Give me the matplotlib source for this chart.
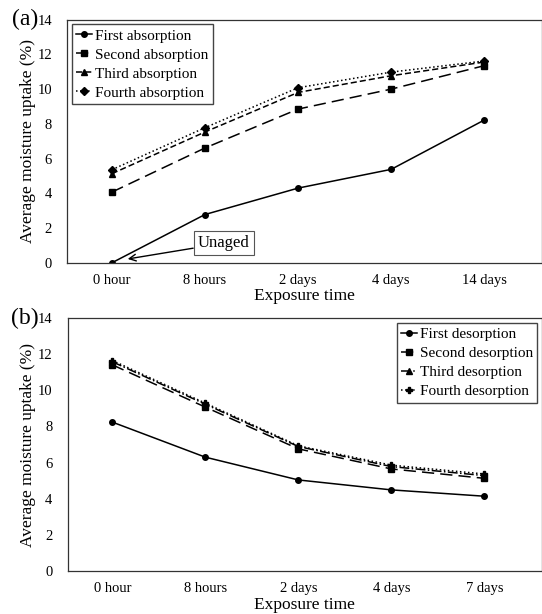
import matplotlib.pyplot as plt

plt.rcParams['font.family'] = ['Liberation Serif', 'DejaVu Serif']

labels_a = ['0 hour', '8 hours', '2 days', '4 days', '14 days']
first_abs = [0.0, 2.78, 4.30, 5.38, 8.22]
second_abs = [4.07, 6.61, 8.85, 10.0, 11.35]
third_abs = [5.13, 7.53, 9.81, 10.77, 11.56]
fourth_abs = [5.36, 7.78, 10.08, 10.98, 11.62]

labels_b = ['0 hour', '8 hours', '2 days', '4 days', '7 days']
first_des = [8.24, 6.30, 5.04, 4.49, 4.14]
second_des = [11.41, 9.07, 6.76, 5.65, 5.13]
third_des = [11.58, 9.23, 6.89, 5.78, 5.28]
fourth_des = [11.65, 9.29, 6.93, 5.86, 5.37]

fig = plt.figure(figsize=(5.42, 6.14), dpi=100)
ax1 = fig.add_axes([0.124, 0.572, 0.876, 0.396])
ax2 = fig.add_axes([0.125, 0.070, 0.875, 0.412])

styles = [
    dict(ls='-', marker='o', ms=4),
    dict(ls=(0, (8, 4)), marker='s', ms=4.5),
    dict(ls=(0, (4, 2)), marker='^', ms=5),
    dict(ls=':', marker='D', ms=4),
]
styles_b = [
    dict(ls='-', marker='o', ms=4),
    dict(ls=(0, (8, 4)), marker='s', ms=4.5),
    dict(ls='-.', marker='^', ms=5),
    dict(ls=':', marker='P', ms=4),
]


def setup(ax, labels, tag):
    x = range(len(labels))
    ax.set_xticks(list(x))
    ax.set_xticklabels(labels)
    ax.set_xlim(-0.48, 4.62)
    ax.set_ylim(0, 14)
    ax.set_yticks(range(0, 15, 2))
    ax.tick_params(length=0, labelsize=10.5, pad=8)
    ax.tick_params(axis='y', pad=11)
    for s in ax.spines.values():
        s.set_color('#333333')
        s.set_linewidth(0.9)
    ax.set_xlabel('Exposure time', fontsize=12.5, labelpad=1)
    ax.set_ylabel('Average moisture uptake (%)', fontsize=12.5, labelpad=1)
    ax.text(-0.061, 1.0, tag, transform=ax.transAxes, fontsize=17, ha='right', va='center')


def add_legend(ax, loc):
    ax.legend(loc=loc, fontsize=11, frameon=True, fancybox=False, edgecolor='#444444',
              handlelength=1.05, handletextpad=0.15, labelspacing=0.35, borderpad=0.3,
              borderaxespad=0.3, framealpha=1)


x = list(range(5))
names_a = ['First absorption', 'Second absorption', 'Third absorption', 'Fourth absorption']
for ys, st, nm in zip([first_abs, second_abs, third_abs, fourth_abs], styles, names_a):
    ax1.plot(x, ys, color='black', lw=1.1, label=nm, **st)
setup(ax1, labels_a, '(a)')
add_legend(ax1, 'upper left')
ax1.annotate('Unaged', xy=(0.17, 0.22), xytext=(1.2, 1.13), fontsize=12, ha='center', va='center',
             bbox=dict(boxstyle='square,pad=0.25', fc='white', ec='#555555', lw=0.8),
             arrowprops=dict(arrowstyle='->', color='black', lw=1.0, shrinkA=0, shrinkB=0))

names_b = ['First desorption', 'Second desorption', 'Third desorption', 'Fourth desorption']
for ys, st, nm in zip([first_des, second_des, third_des, fourth_des], styles_b, names_b):
    ax2.plot(x, ys, color='black', lw=1.1, label=nm, **st)
setup(ax2, labels_b, '(b)')
add_legend(ax2, 'upper right')

fig.savefig('out.png', dpi=100)
